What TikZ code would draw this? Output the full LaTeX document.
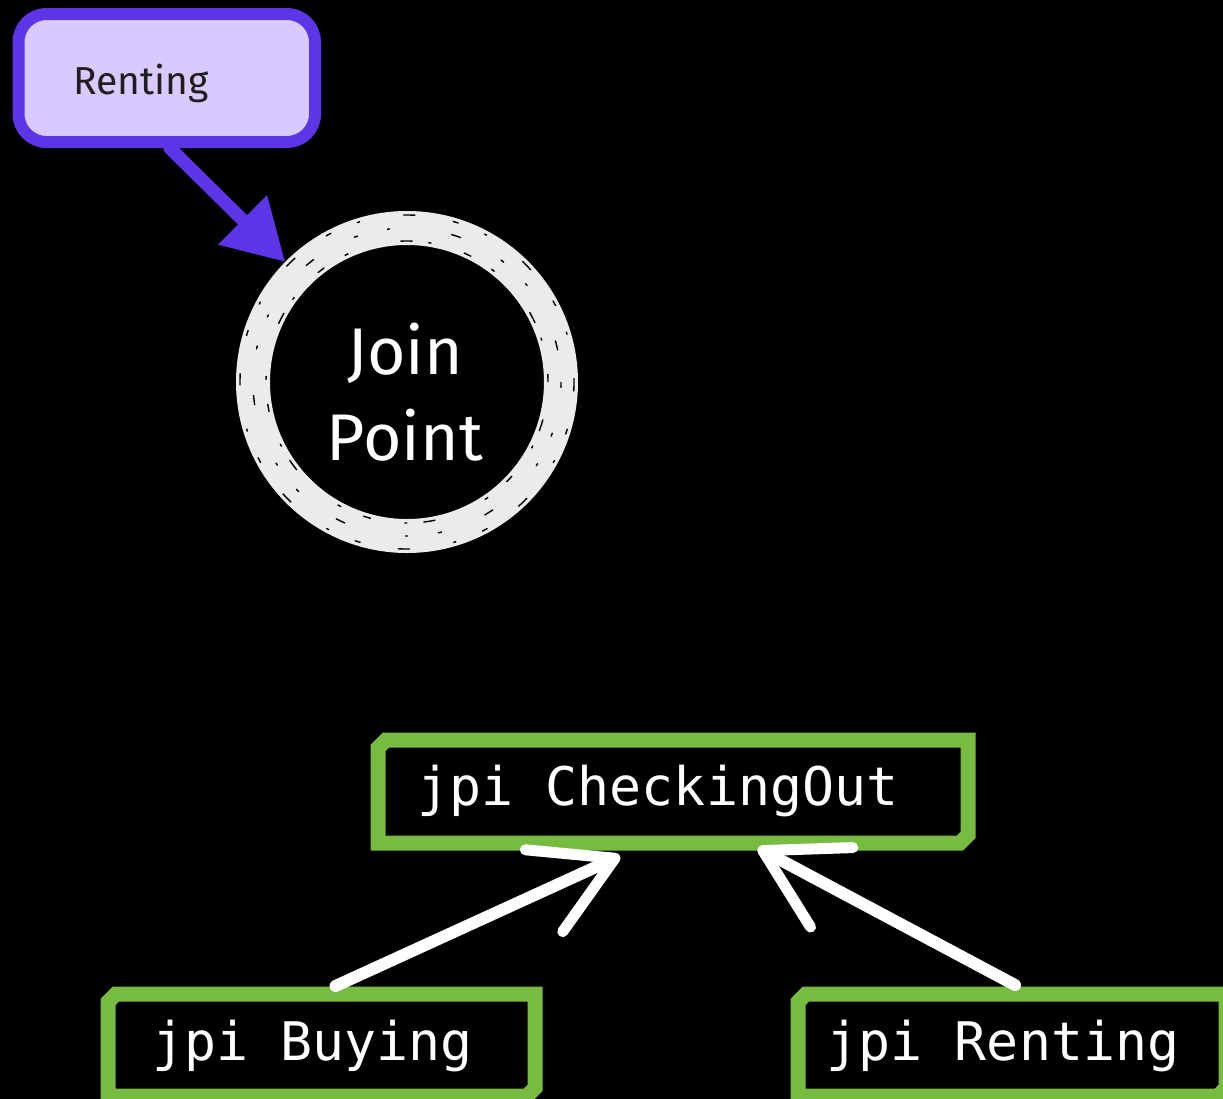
\documentclass[tikz,border=0pt]{standalone}
\usepackage{fontspec}
\setmainfont{Fira Sans}
\newfontfamily\codefont{DejaVu Sans Mono}
\usetikzlibrary{arrows.meta}
\definecolor{vstroke}{HTML}{5C36E6}
\definecolor{vfill}{HTML}{D8CAFF}
\definecolor{gstroke}{HTML}{77BB41}
\definecolor{ringc}{HTML}{EBEBEB}
\definecolor{inkc}{HTML}{1E1E1E}
\begin{document}
\begin{tikzpicture}[x=0.5pt,y=-0.5pt,
  pbox/.style={draw=vstroke, fill=vfill, line width=6pt, rounded corners=14pt,
    minimum width=148.25pt, minimum height=64pt, inner sep=0pt},
  anchorbox/.style={draw=none, inner sep=0pt, outer sep=0pt},
  gline/.style={draw=gstroke, fill=black, line width=7.5pt, line join=miter},
  codetext/.style={text=white, font=\codefont\fontsize{26.6pt}{32pt}\selectfont, inner sep=0pt, anchor=base},
  parrow/.style={draw=vstroke, line width=6.5pt, line cap=round,
    -{Triangle[length=30pt,width=33pt]}, fill=vstroke},
  warrow/.style={draw=white, line width=6pt, line cap=round, line join=round,
    -{Straight Barb[length=39pt,width=45pt,line width=5.5pt,round]}},
  texture/.style={draw=black, line width=0.7pt}
]
\useasboundingbox (0,0) rectangle (1223,1099);
\fill[black] (0,0) rectangle (1223,1099);
\clip (0,0) rectangle (1223,1099);

% Renting (sketch box)
\node[pbox] (renting) at (166.75,78) {};
\node[text=inkc, font=\fontsize{19.5pt}{24pt}\selectfont, inner sep=0pt, anchor=base] (rentingtxt) at (141,94) {Renting};

% Join point ring
\node[circle, draw=ringc, line width=17pt, minimum size=154pt, inner sep=0pt] (jp) at (407,382) {};
\draw[texture, dash pattern=on 4pt off 17pt on 1.5pt off 8pt on 6pt off 27pt on 2pt off 12pt] (jp.center) circle (70.5pt);
\draw[texture, dash pattern=on 2pt off 23pt on 5pt off 31pt on 1.5pt off 15pt, dash phase=9pt] (jp.center) circle (77pt);
\draw[texture, dash pattern=on 6pt off 22pt on 1.5pt off 14pt on 3pt off 19pt, dash phase=4pt] (jp.center) circle (83.5pt);
\node[text=white, align=center, font=\fontsize{33pt}{43pt}\selectfont, inner sep=0pt] (jptxt) at (405,392) {Join\\Point};

\draw[parrow] ([xshift=1.5pt]renting.south) -- (jp);

% Green code boxes
\node[anchorbox, minimum width=295pt, minimum height=51.5pt] (co) at (673,791.5) {};
\node[anchorbox, minimum width=213.5pt, minimum height=51pt] (buy) at (321.5,1045) {};
\node[anchorbox, minimum width=214pt, minimum height=51pt] (ren) at (1012,1045) {};

\foreach \b in {co,buy,ren}{
  \draw[gline] ([xshift=4pt]\b.north west) -- (\b.north east) -- ([yshift=4pt]\b.south east)
    -- ([xshift=-4pt]\b.south east) -- (\b.south west) -- ([yshift=-4pt]\b.north west) -- cycle;
}

\node[codetext] (cotxt) at (658,805) {jpi CheckingOut};
\node[codetext] (buytxt) at (312.5,1060) {jpi Buying};
\node[codetext] (rentxt) at (1003,1060) {jpi Renting};

% white arrows
\draw[warrow] ([xshift=7pt,yshift=4pt]buy.north) -- ([xshift=-26.5pt,yshift=-6.5pt]co.south);
\draw[warrow] ([xshift=1.5pt,yshift=4.5pt]ren.north) -- ([xshift=42.5pt,yshift=-2.5pt]co.south);
\end{tikzpicture}
\end{document}
